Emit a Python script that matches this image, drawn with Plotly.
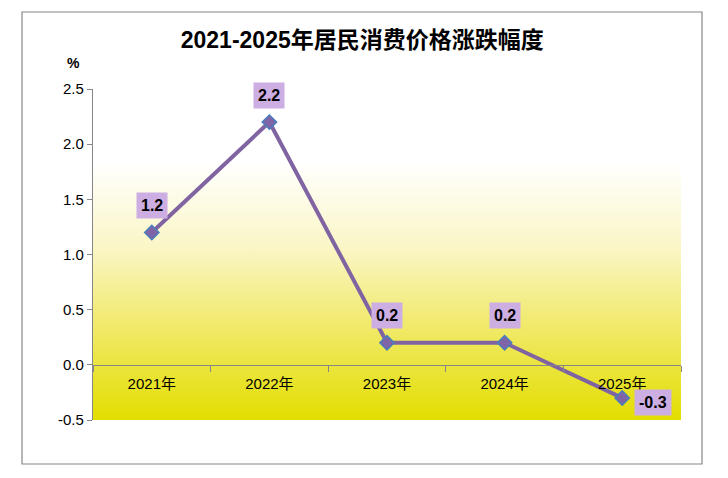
import plotly.graph_objects as go

# Data
years = ["2021年", "2022年", "2023年", "2024年", "2025年"]
cpi_change = [1.2, 2.2, 0.2, 0.2, -0.3]
y_ticks = [-0.5, 0.0, 0.5, 1.0, 1.5, 2.0, 2.5]

FONT = "Liberation Sans, Noto Sans CJK SC, sans-serif"
GREY = "#868686"

fig = go.Figure()

# Background gradient of the plot area (white at top, yellow at bottom)
fig.add_trace(go.Scatter(
    x=[0, 1, 1, 0, 0],
    y=[0, 0, 1, 1, 0],
    mode="none",
    fill="toself",
    fillgradient=dict(
        type="vertical",
        colorscale=[
            [0.0, "#E3DE00"],
            [0.32, "#F2EB78"],
            [0.52, "#FAF6C6"],
            [0.78, "#FFFFFF"],
            [1.0, "#FFFFFF"],
        ],
    ),
    hoverinfo="skip",
    showlegend=False,
    xaxis="x",
    yaxis="y",
))

# CPI line
fig.add_trace(go.Scatter(
    x=years,
    y=cpi_change,
    mode="lines+markers",
    line=dict(color="#8064A2", width=4),
    marker=dict(symbol="diamond", size=11, color="#7F64A8",
                line=dict(color="#4A7EBB", width=1.5)),
    showlegend=False,
    xaxis="x2",
    yaxis="y2",
))

# Value labels
for i, (yr, v) in enumerate(zip(years, cpi_change)):
    last = i == len(years) - 1
    fig.add_annotation(
        x=yr, y=v, xref="x2", yref="y2",
        text=f"<b>{v:.1f}</b>",
        showarrow=False,
        font=dict(family=FONT, size=16, color="black"),
        bgcolor="#CDAEE3",
        borderpad=4,
        xshift=31 if last else 0,
        yshift=-5 if last else 27,
    )

# "%" unit label
fig.add_annotation(
    x=-0.034, y=1.079, xref="paper", yref="paper",
    xanchor="center", yanchor="middle",
    text="<b>%</b>", showarrow=False,
    font=dict(family=FONT, size=14, color="black"),
)

# Outer chart border
fig.add_shape(
    type="rect", xref="paper", yref="paper",
    x0=-0.1207, x1=1.0357, y0=-0.1329, y1=1.2326,
    line=dict(color=GREY, width=1.2),
    fillcolor="rgba(0,0,0,0)",
)

fig.update_layout(
    width=720,
    height=470,
    margin=dict(l=85, r=47, t=81, b=58),
    paper_bgcolor="white",
    plot_bgcolor="rgba(0,0,0,0)",
    title=dict(
        text="<b>2021-2025年居民消费价格涨跌幅度</b>",
        x=0.492, xanchor="center",
        y=0.932, yanchor="middle",
        font=dict(family=FONT, size=23, color="black"),
    ),
    xaxis=dict(range=[0, 1], visible=False, fixedrange=True),
    yaxis=dict(range=[0, 1], visible=False, fixedrange=True),
    xaxis2=dict(
        overlaying="x",
        type="category",
        range=[-0.5, 4.5],
        anchor="free",
        position=0.5 / 3,
        showline=True,
        linecolor=GREY,
        linewidth=1.2,
        ticks="outside",
        tickson="boundaries",
        ticklen=6,
        tickcolor=GREY,
        ticklabelstandoff=5,
        showgrid=False,
        tickfont=dict(family=FONT, size=15, color="black"),
    ),
    yaxis2=dict(
        overlaying="y",
        range=[-0.5, 2.5],
        tickvals=y_ticks,
        ticktext=[f"{t:.1f}" for t in y_ticks],
        showline=True,
        linecolor=GREY,
        linewidth=1.2,
        ticks="outside",
        ticklen=5,
        tickcolor=GREY,
        showgrid=False,
        zeroline=False,
        tickfont=dict(family=FONT, size=15, color="black"),
    ),
)

fig.write_html("out.html")
